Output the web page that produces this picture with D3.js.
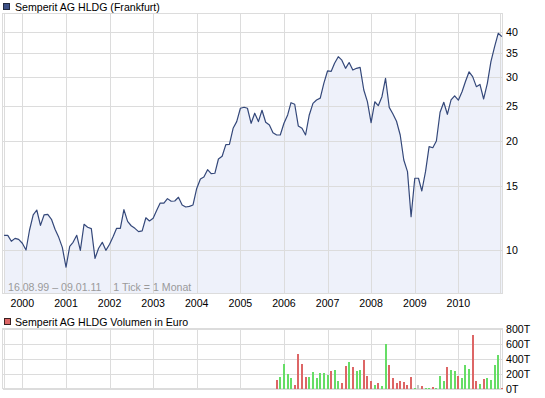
<!DOCTYPE html>
<html>
<head>
<meta charset="utf-8">
<script src="https://cdn.jsdelivr.net/npm/d3@7"></script>
<style>
  html, body { margin: 0; padding: 0; background: #fff; }
  svg { display: block; font-family: "Liberation Sans", Arial, sans-serif; }
</style>
</head>
<body>
<svg id="chart" width="545" height="398"></svg>
<script>
// ---------------- data ----------------
const priceTitle = "Semperit AG HLDG (Frankfurt)";
const volumeTitle = "Semperit AG HLDG Volumen in Euro";
const infoText = "16.08.99 \u2013 09.01.11    1 Tick = 1 Monat";

// monthly closing prices, starting August 1999
const priceStart = [1999, 7];
const priceValues = [
  // 1999 Aug-Dec
  10.98, 10.98, 10.57, 10.77, 10.70,
  // 2000
  10.44, 10.00, 11.34, 12.50, 12.90, 11.70, 12.50, 12.55, 12.16, 11.41, 10.84, 10.17,
  // 2001
  8.96, 10.24, 10.50, 10.98, 9.98, 11.78, 11.56, 11.46, 9.48, 10.11, 10.50, 9.98,
  // 2002
  10.37, 10.91, 11.48, 11.48, 12.93, 12.00, 11.67, 11.48, 11.24, 11.29, 12.28, 12.03,
  // 2003
  12.24, 12.90, 13.49, 13.47, 13.87, 13.64, 13.66, 13.99, 13.32, 13.15, 13.20, 13.32,
  // 2004
  14.80, 15.72, 15.92, 16.68, 16.26, 16.30, 17.85, 18.16, 19.56, 19.60, 21.71, 22.65,
  // 2005
  24.66, 24.82, 24.66, 22.41, 23.89, 22.65, 24.35, 22.56, 22.17, 21.10, 20.80, 20.80,
  // 2006
  22.41, 23.63, 25.55, 25.30, 22.03, 21.71, 20.80, 23.63, 25.44, 26.00, 26.30, 28.90,
  // 2007
  31.27, 31.20, 32.85, 34.25, 33.50, 31.80, 33.00, 31.46, 31.80, 32.00, 27.70, 25.72,
  // 2008
  22.50, 25.70, 25.07, 26.55, 29.85, 24.80, 23.80, 22.70, 20.80, 17.74, 16.47, 12.36,
  // 2009
  15.79, 15.79, 14.56, 16.47, 19.31, 19.18, 20.02, 24.04, 25.62, 23.73, 26.00, 26.70,
  // 2010
  25.96, 27.40, 29.20, 31.10, 30.16, 28.30, 28.70, 26.16, 28.90, 33.20, 36.50, 39.75,
  // 2011 Jan
  38.90
];

// monthly turnover in thousand Euro, starting November 2005
const volumeStart = [2005, 10];
const volumeValues = [
  120, 160,
  333, 200, 147, 53, 467, 333, 160, 160, 227, 147, 213, 213,
  187, 240, 253, 107, 80, 307, 360, 293, 240, 253, 387, 173,
  107, 53, 80, 40, 600, 320, 147, 80, 107, 93, 53, 160,
  13, 53, 40, 13, 13, 27, 13, 173, 107, 293, 253, 240,
  173, 147, 320, 267, 720, 107, 67, 133, 147, 120, 320, 453,
  13
];
// u = price up, d = price down, f = unchanged
const volumeDirection = [
  "d", "u",
  "u", "u", "u", "d", "d", "d", "d", "u", "u", "u", "u", "u",
  "u", "d", "u", "u", "d", "d", "u", "d", "u", "u", "d", "d",
  "d", "u", "d", "u", "u", "d", "d", "d", "d", "d", "d", "d",
  "u", "f", "d", "u", "u", "d", "u", "u", "u", "d", "u", "u",
  "d", "u", "u", "u", "d", "d", "u", "d", "u", "u", "u", "u",
  "d"
];

const priceTicks = [10, 15, 20, 25, 30, 35, 40];
const volumeTicks = [0, 200, 400, 600, 800];
const volumeTickLabels = ["0T", "200T", "400T", "600T", "800T"];
const yearTicks = [2000, 2001, 2002, 2003, 2004, 2005, 2006, 2007, 2008, 2009, 2010];

// ---------------- drawing ----------------
const svg = d3.select("#chart");
const gridColor = "#dcdcdc";
const lineColor = "#34487a";
const fillColor = "#eef1fa";
const upColor = "#66dd66";
const downColor = "#dd6666";
const flatColor = "#c4c4c4";
const fontSize = "10.6px";

const left = 3, right = 502.5;
const mainTop = 13.5, mainBottom = 293.5;
const volTop = 329.5, volBottom = 389.5;

const x = d3.scaleTime()
  .domain([new Date(1999, 6, 23), new Date(2011, 0, 6)])
  .range([left, right]);
const y = d3.scaleLog().domain([10, 40]).range([250, 32.3]);
const yv = d3.scaleLinear().domain([0, 800]).range([volBottom, volTop]);

const px = v => Math.round(v) + 0.5;

const priceData = priceValues.map((v, i) => ({
  date: d3.timeMonth.offset(new Date(priceStart[0], priceStart[1], 1), i),
  value: v
}));
const volumeData = volumeValues.map((v, i) => ({
  date: d3.timeMonth.offset(new Date(volumeStart[0], volumeStart[1], 1), i),
  value: v,
  dir: volumeDirection[i]
}));

svg.append("rect").attr("width", 545).attr("height", 398).attr("fill", "#fff");

// clip
const defs = svg.append("defs");
defs.append("clipPath").attr("id", "mainClip").append("rect")
  .attr("x", left).attr("y", mainTop).attr("width", right - left).attr("height", mainBottom - mainTop);

// ---- legend (price)
svg.append("rect").attr("x", 3.5).attr("y", 3.5).attr("width", 6).attr("height", 6)
  .attr("fill", "#3d5187").attr("stroke", "#222a40").attr("stroke-width", 1);
svg.append("text").attr("x", 15).attr("y", 10.5).attr("font-size", fontSize)
  .attr("fill", "#000").text(priceTitle);

// ---- main area
const main = svg.append("g");
main.append("path")
  .datum(priceData)
  .attr("clip-path", "url(#mainClip)")
  .attr("fill", fillColor)
  .attr("d", d3.area().x(d => x(d.date)).y0(mainBottom).y1(d => y(d.value)));

// grid main
const gridMain = main.append("g").attr("stroke", gridColor).attr("stroke-width", 1)
  .attr("shape-rendering", "crispEdges");
gridMain.selectAll("line.h").data(priceTicks).join("line")
  .attr("x1", left).attr("x2", right).attr("y1", d => px(y(d))).attr("y2", d => px(y(d)));
gridMain.selectAll("line.v").data(yearTicks).join("line")
  .attr("y1", mainTop).attr("y2", mainBottom)
  .attr("x1", d => px(x(new Date(d, 0, 1)))).attr("x2", d => px(x(new Date(d, 0, 1))));
// frame
gridMain.append("rect").attr("x", 2.5).attr("y", mainTop).attr("width", 500).attr("height", mainBottom - mainTop)
  .attr("fill", "none");
gridMain.append("line").attr("x1", 4.5).attr("x2", 4.5).attr("y1", mainTop).attr("y2", mainBottom);
gridMain.append("line").attr("x1", 500.5).attr("x2", 500.5).attr("y1", mainTop).attr("y2", mainBottom);

// price line
main.append("path")
  .datum(priceData)
  .attr("clip-path", "url(#mainClip)")
  .attr("fill", "none")
  .attr("stroke", lineColor)
  .attr("stroke-width", 1.2)
  .attr("stroke-linejoin", "round")
  .attr("d", d3.line().x(d => x(d.date)).y(d => y(d.value)));

// right axis labels (price)
svg.append("g").selectAll("text").data(priceTicks).join("text")
  .attr("x", 506).attr("y", d => y(d)).attr("dy", "0.36em")
  .attr("font-size", fontSize).attr("fill", "#000").text(d => d);

// info text
svg.append("text").attr("x", 8).attr("y", 290.5).attr("font-size", fontSize)
  .attr("fill", "#9a9a9a").attr("xml:space", "preserve").style("white-space", "pre").text(infoText);

// x axis labels
svg.append("g").selectAll("text").data(yearTicks).join("text")
  .attr("x", d => x(new Date(d, 0, 1))).attr("y", 306.5).attr("text-anchor", "middle")
  .attr("font-size", fontSize).attr("fill", "#000").text(d => d);

// ---- legend (volume)
svg.append("rect").attr("x", 4.5).attr("y", 318.5).attr("width", 6).attr("height", 6)
  .attr("fill", "#dd6666").attr("stroke", "#3a2222").attr("stroke-width", 1);
svg.append("text").attr("x", 15).attr("y", 325.5).attr("font-size", fontSize)
  .attr("fill", "#000").text(volumeTitle);

// ---- volume panel
const vol = svg.append("g");
const gridVol = vol.append("g").attr("stroke", gridColor).attr("stroke-width", 1)
  .attr("shape-rendering", "crispEdges");
gridVol.selectAll("line.h").data(volumeTicks).join("line")
  .attr("x1", left).attr("x2", right).attr("y1", d => px(yv(d)) - 1).attr("y2", d => px(yv(d)) - 1);
gridVol.selectAll("line.v").data(yearTicks).join("line")
  .attr("y1", volTop).attr("y2", volBottom)
  .attr("x1", d => px(x(new Date(d, 0, 1)))).attr("x2", d => px(x(new Date(d, 0, 1))));
gridVol.append("rect").attr("x", 2.5).attr("y", volTop - 1).attr("width", 500).attr("height", volBottom - volTop)
  .attr("fill", "none");
gridVol.append("line").attr("x1", 4.5).attr("x2", 4.5).attr("y1", volTop).attr("y2", volBottom);
gridVol.append("line").attr("x1", 500.5).attr("x2", 500.5).attr("y1", volTop).attr("y2", volBottom);

vol.append("g").attr("shape-rendering", "crispEdges").selectAll("rect").data(volumeData).join("rect")
  .attr("x", d => Math.round(x(d.date)) - 1)
  .attr("width", 2)
  .attr("y", d => yv(d.value) - 0.5)
  .attr("height", d => Math.max(0, volBottom - 0.5 - yv(d.value)))
  .attr("fill", d => d.dir === "u" ? upColor : (d.dir === "d" ? downColor : flatColor));

svg.append("g").selectAll("text").data(volumeTicks).join("text")
  .attr("x", 506).attr("y", d => yv(d)).attr("dy", "0.36em")
  .attr("font-size", fontSize).attr("fill", "#000").text((d, i) => volumeTickLabels[i]);
</script>
</body>
</html>
